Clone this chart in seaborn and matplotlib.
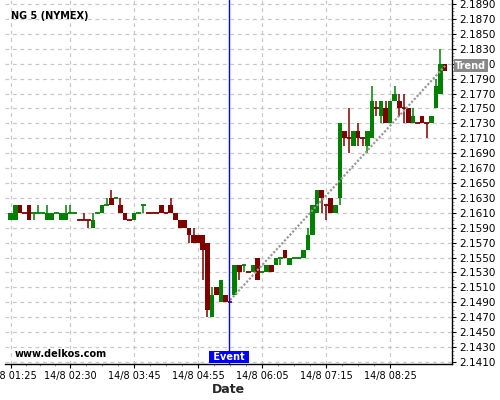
import numpy as np
import pandas as pd
import matplotlib
matplotlib.use("Agg")
import matplotlib.pyplot as plt
from matplotlib.ticker import FixedLocator
import seaborn as sns

# ---------------- data ----------------
opens = [2.160, 2.160, 2.162, 2.161, 2.162, 2.161, 2.161, 2.161, 2.160, 2.160,
         2.161, 2.160, 2.160, 2.161, 2.161, 2.160, 2.160, 2.160, 2.159, 2.161,
         2.161, 2.162, 2.163, 2.163, 2.162, 2.161, 2.160, 2.160, 2.161, 2.162,
         2.161, 2.161, 2.161, 2.162, 2.161, 2.162, 2.161, 2.160, 2.160, 2.159,
         2.158, 2.158, 2.158, 2.157, 2.147, 2.151, 2.149, 2.150, 2.149, 2.150,
         2.154, 2.154, 2.153, 2.153, 2.155, 2.153, 2.153, 2.154, 2.154, 2.155,
         2.156, 2.154, 2.155, 2.155, 2.155, 2.156, 2.158, 2.161, 2.164, 2.162,
         2.163, 2.161, 2.163, 2.172, 2.171, 2.170, 2.172, 2.171, 2.170, 2.171,
         2.175, 2.174, 2.175, 2.173, 2.176, 2.176, 2.175, 2.175, 2.173, 2.173,
         2.174, 2.173, 2.173, 2.175, 2.177, 2.181]
highs = [2.161, 2.162, 2.162, 2.161, 2.162, 2.161, 2.162, 2.161, 2.162, 2.161,
         2.161, 2.161, 2.162, 2.162, 2.161, 2.160, 2.161, 2.160, 2.161, 2.161,
         2.162, 2.163, 2.164, 2.163, 2.163, 2.161, 2.160, 2.161, 2.161, 2.162,
         2.161, 2.161, 2.161, 2.162, 2.161, 2.163, 2.161, 2.160, 2.160, 2.159,
         2.159, 2.158, 2.158, 2.157, 2.151, 2.151, 2.152, 2.150, 2.149, 2.154,
         2.154, 2.154, 2.153, 2.154, 2.155, 2.153, 2.154, 2.154, 2.155, 2.155,
         2.156, 2.155, 2.155, 2.155, 2.156, 2.159, 2.162, 2.164, 2.164, 2.162,
         2.163, 2.162, 2.173, 2.172, 2.175, 2.172, 2.173, 2.171, 2.172, 2.178,
         2.176, 2.176, 2.176, 2.176, 2.178, 2.177, 2.177, 2.175, 2.175, 2.173,
         2.174, 2.173, 2.174, 2.179, 2.183, 2.181]
lows = [2.160, 2.160, 2.161, 2.161, 2.160, 2.160, 2.161, 2.161, 2.160, 2.160,
        2.161, 2.160, 2.160, 2.161, 2.161, 2.160, 2.160, 2.159, 2.159, 2.161,
        2.161, 2.162, 2.162, 2.163, 2.161, 2.160, 2.160, 2.160, 2.161, 2.161,
        2.161, 2.161, 2.161, 2.161, 2.161, 2.161, 2.160, 2.159, 2.159, 2.157,
        2.157, 2.157, 2.152, 2.147, 2.147, 2.150, 2.149, 2.149, 2.149, 2.150,
        2.152, 2.153, 2.153, 2.153, 2.152, 2.153, 2.153, 2.153, 2.154, 2.154,
        2.155, 2.154, 2.155, 2.155, 2.155, 2.156, 2.158, 2.161, 2.161, 2.160,
        2.161, 2.161, 2.162, 2.170, 2.169, 2.170, 2.170, 2.170, 2.169, 2.171,
        2.174, 2.173, 2.173, 2.173, 2.176, 2.174, 2.173, 2.173, 2.173, 2.173,
        2.173, 2.171, 2.173, 2.175, 2.177, 2.180]
closes = [2.161, 2.162, 2.161, 2.161, 2.160, 2.161, 2.161, 2.161, 2.161, 2.161,
          2.161, 2.161, 2.161, 2.161, 2.161, 2.160, 2.160, 2.160, 2.160, 2.161,
          2.162, 2.162, 2.162, 2.163, 2.161, 2.160, 2.160, 2.161, 2.161, 2.162,
          2.161, 2.161, 2.161, 2.161, 2.161, 2.161, 2.160, 2.159, 2.159, 2.158,
          2.157, 2.157, 2.156, 2.148, 2.150, 2.150, 2.152, 2.149, 2.149, 2.154,
          2.153, 2.154, 2.153, 2.154, 2.152, 2.153, 2.154, 2.153, 2.155, 2.155,
          2.155, 2.155, 2.155, 2.155, 2.156, 2.158, 2.162, 2.164, 2.163, 2.162,
          2.161, 2.162, 2.173, 2.171, 2.171, 2.172, 2.171, 2.171, 2.172, 2.176,
          2.175, 2.176, 2.173, 2.176, 2.177, 2.175, 2.175, 2.173, 2.174, 2.173,
          2.173, 2.173, 2.174, 2.178, 2.181, 2.180]

x_tick_index = [0, 13, 27, 41, 55, 69, 83]
x_tick_labels = ["14/8 01:25", "14/8 02:30", "14/8 03:45", "14/8 04:55",
                 "14/8 06:05", "14/8 07:15", "14/8 08:25"]
y_ticks = [2.1410, 2.1430, 2.1450, 2.1470, 2.1490, 2.1510, 2.1530, 2.1550,
           2.1570, 2.1590, 2.1610, 2.1630, 2.1650, 2.1670, 2.1690, 2.1710,
           2.1730, 2.1750, 2.1770, 2.1790, 2.1810, 2.1830, 2.1850, 2.1870,
           2.1890]
event_index = 47.8
trend_index = [48, 95]
trend_price = [2.1493, 2.1807]

# ---------------- styling ----------------
sns.set_theme(style="white")
plt.rcParams["font.family"] = ["DejaVu Sans"]

UP = "#008000"
DOWN = "#800000"

df = pd.DataFrame({"o": opens, "h": highs, "l": lows, "c": closes})
df["i"] = np.arange(len(df))
colors = []
prev_c, prev_col = None, UP
for o, c in zip(df["o"], df["c"]):
    if c > o + 1e-9:
        col = UP
    elif c < o - 1e-9:
        col = DOWN
    else:
        if prev_c is None or abs(c - prev_c) < 1e-9:
            col = prev_col
        elif c > prev_c:
            col = UP
        else:
            col = DOWN
    colors.append(col)
    prev_c, prev_col = c, col
df["col"] = colors

fig = plt.figure(figsize=(5, 4), dpi=100)
ax = fig.add_axes([5 / 500, 36 / 400, 447 / 500, 364 / 400])

# grid
ax.set_axisbelow(True)
ax.grid(True, which="major", color="#c8c8c8", linestyle=(0, (3, 3)), linewidth=0.9)

# wicks
ax.vlines(df["i"], df["l"], df["h"], colors=df["col"], linewidth=1.1, zorder=2)
# bodies
body = df[(df["c"] - df["o"]).abs() > 1e-9]
ax.bar(body["i"], (body["c"] - body["o"]).abs(), bottom=np.minimum(body["o"], body["c"]),
       width=1.0, color=body["col"], linewidth=0, zorder=3)
doji = df[(df["c"] - df["o"]).abs() <= 1e-9]
ax.hlines(doji["o"], doji["i"] - 0.5, doji["i"] + 0.5, colors=doji["col"], linewidth=1.3, zorder=3)

# trend line
sns.lineplot(x=trend_index, y=trend_price, ax=ax, color="#9a9a9a",
             linestyle=(0, (1, 0.8)), linewidth=1.6, zorder=4)

# event line
ax.axvline(event_index, color="#0000ff", linewidth=1.0, zorder=5)
ax.annotate(" Event ", xy=(event_index, 0.0), xycoords=("data", "axes fraction"),
            ha="center", va="bottom", color="white", fontsize=7, fontweight="bold",
            xytext=(0, 1.5), textcoords="offset points",
            bbox=dict(boxstyle="square,pad=0.12", fc="#0000ff", ec="none"), zorder=6)

# trend label
ax.annotate("Trend", xy=(1.0, trend_price[-1]), xycoords=("axes fraction", "data"),
            ha="left", va="center", color="white", fontsize=7, fontweight="bold",
            xytext=(2.2, 0), textcoords="offset points",
            bbox=dict(boxstyle="square,pad=0.15", fc="#888888", ec="none"),
            annotation_clip=False, zorder=6)

# texts
ax.text(0.0134, 0.957, "NG 5 (NYMEX)", transform=ax.transAxes, ha="left", va="center",
        fontsize=7, fontweight="bold", color="black")
ax.text(0.0224, 0.0275, "www.delkos.com", transform=ax.transAxes, ha="left", va="center",
        fontsize=7, fontweight="bold", color="black")

# axes limits
ax.set_xlim(-1.25, 96.53)
ax.set_ylim(2.14073, 2.18954)

# y axis on right
ax.yaxis.tick_right()
ax.yaxis.set_major_locator(FixedLocator(y_ticks))
ax.set_yticklabels([f"{v:.4f}" for v in y_ticks])
y_minor = np.arange(y_ticks[0], y_ticks[-1] + 1e-9, 0.0005)
ax.yaxis.set_minor_locator(FixedLocator(y_minor))
ax.tick_params(axis="y", which="major", right=True, left=False, length=3, width=0.8,
               pad=2, labelsize=7.5, colors="black", direction="out")
ax.tick_params(axis="y", which="minor", right=True, left=False, length=1.5, width=0.6,
               direction="out", colors="#888888")

# x axis
ax.xaxis.set_major_locator(FixedLocator(x_tick_index))
ax.set_xticklabels(x_tick_labels)
x_minor = []
for a, b in zip(x_tick_index[:-1], x_tick_index[1:]):
    x_minor += list(np.linspace(a, b, 5)[1:-1])
ax.xaxis.set_minor_locator(FixedLocator(x_minor))
ax.tick_params(axis="x", which="major", bottom=True, length=3, width=0.8, pad=2,
               labelsize=7, colors="black", direction="out")
ax.tick_params(axis="x", which="minor", bottom=True, length=1.5, width=0.6,
               direction="out", colors="#888888")
ax.set_xlabel("Date", fontsize=9, fontweight="bold", labelpad=1.5)
ax.set_ylabel("")

for side in ["top", "left"]:
    ax.spines[side].set_visible(False)
for side in ["right", "bottom"]:
    ax.spines[side].set_visible(True)
    ax.spines[side].set_color("black")
    ax.spines[side].set_linewidth(1.0)

fig.savefig("out.png", dpi=100, facecolor="white")
